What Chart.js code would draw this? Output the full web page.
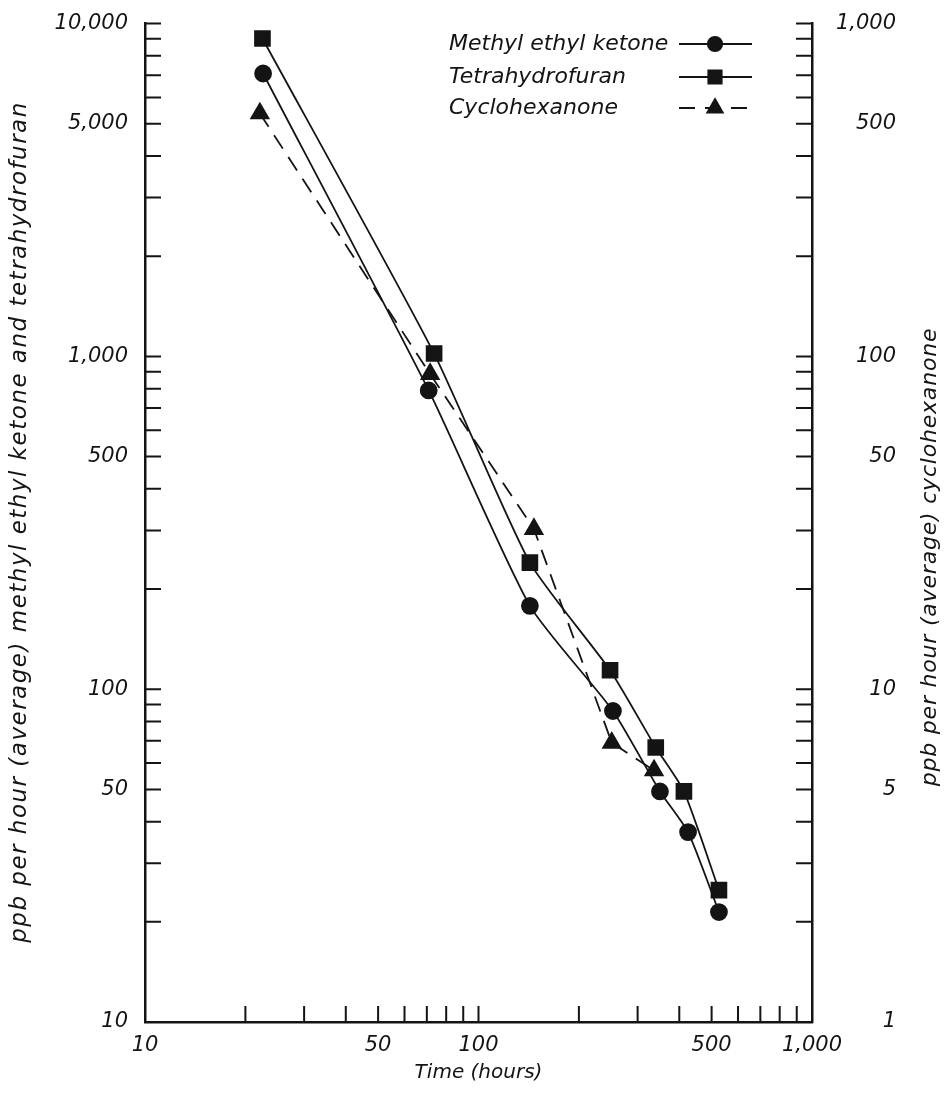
<!DOCTYPE html>
<html>
<head>
<meta charset="utf-8">
<script src="https://cdn.jsdelivr.net/npm/chart.js@4.4.0/dist/chart.umd.min.js"></script>
<style>
  html, body { margin: 0; padding: 0; background: #fff; }
  #wrap { width: 944px; height: 1098px; position: relative; }
</style>
</head>
<body>
<div id="wrap"><canvas id="myChart"></canvas></div>
<script>
// values
const mekHours = [22.6, 70.9, 142.6, 253, 350, 425, 526];
const mekRate  = [7080, 790, 178, 86, 49.3, 37.2, 21.4];

const thfHours = [22.5, 73.6, 142.6, 248, 340, 413, 526];
const thfRate  = [9020, 1020, 240, 114, 66.8, 49.3, 24.9];

// cyclohexanone is read on the right hand axis
const cycHours = [22.1, 71.6, 146.6, 251, 336];
const cycRate  = [537, 88.5, 30.3, 6.9, 5.7];

const xTickValues = [10, 20, 30, 40, 50, 60, 70, 80, 90, 100, 200, 300, 400, 500, 600, 700, 800, 900, 1000];
const xTickLabels = [10, 50, 100, 500, 1000];

const yTickValues = [10, 20, 30, 40, 50, 60, 70, 80, 90, 100, 200, 300, 400, 500, 600, 700, 800, 900,
                     1000, 2000, 3000, 4000, 5000, 6000, 7000, 8000, 9000, 10000];
const yTickLabels = [10, 50, 100, 500, 1000, 5000, 10000];

const y2TickValues = [1, 2, 3, 4, 5, 6, 7, 8, 9, 10, 20, 30, 40, 50, 60, 70, 80, 90,
                      100, 200, 300, 400, 500, 600, 700, 800, 900, 1000];
const y2TickLabels = [1, 5, 10, 50, 100, 500, 1000];

const seriesNames = ['Methyl ethyl ketone', 'Tetrahydrofuran', 'Cyclohexanone'];
const leftTitle = 'ppb per hour (average) methyl ethyl ketone and tetrahydrofuran';
const rightTitle = 'ppb per hour (average) cyclohexanone';

const ink = '#141414';
const fontFam = "'DejaVu Sans', 'Liberation Sans', sans-serif";
const tickFont = { family: fontFam, size: 21, style: 'italic' };

function toPoints(xs, ys) {
    return xs.map((x, i) => ({ x: x, y: ys[i] }));
}
function fixTicks(values) {
    return function (scale) {
        scale.ticks = values.map(v => ({ value: v }));
    };
}
function labelFor(list) {
    return function (value) {
        return list.includes(value) ? value.toLocaleString('en-US') : '';
    };
}

// tick marks point into the plot, like the original
const inwardTicks = {
    id: 'inwardTicks',
    afterDraw(chart) {
        const ctx = chart.ctx;
        const a = chart.chartArea;
        const len = 16;
        const sx = chart.scales.x, sy = chart.scales.y, sy2 = chart.scales.y2;
        ctx.save();
        ctx.strokeStyle = ink;
        ctx.lineWidth = 2;
        ctx.beginPath();
        sx.ticks.forEach(t => {
            const px = sx.getPixelForValue(t.value);
            ctx.moveTo(px, a.bottom);
            ctx.lineTo(px, a.bottom - len);
        });
        sy.ticks.forEach(t => {
            const py = sy.getPixelForValue(t.value);
            ctx.moveTo(a.left, py);
            ctx.lineTo(a.left + len, py);
        });
        sy2.ticks.forEach(t => {
            const py = sy2.getPixelForValue(t.value);
            ctx.moveTo(a.right, py);
            ctx.lineTo(a.right - len, py);
        });
        ctx.stroke();
        ctx.restore();
    }
};

function rotatedText(ctx, text, x, y, size, spacing) {
    ctx.save();
    ctx.translate(x, y);
    ctx.rotate(-Math.PI / 2);
    ctx.font = 'italic ' + size + 'px ' + fontFam;
    ctx.letterSpacing = spacing + 'px';
    ctx.textAlign = 'center';
    ctx.textBaseline = 'middle';
    ctx.fillText(text, 0, 0);
    ctx.restore();
}

// legend (text then sample line with marker) and both axis titles
const extras = {
    id: 'extras',
    afterDraw(chart) {
        const ctx = chart.ctx;
        ctx.save();
        ctx.fillStyle = ink;
        ctx.strokeStyle = ink;
        ctx.font = 'italic 22px ' + fontFam;
        ctx.textBaseline = 'middle';
        ctx.textAlign = 'left';
        const rows = [44, 77, 108];
        chart.data.datasets.forEach((ds, i) => {
            const y = rows[i];
            ctx.fillText(seriesNames[i], 449, y);
            ctx.lineWidth = 1.8;
            ctx.setLineDash(ds.borderDash || []);
            ctx.beginPath();
            ctx.moveTo(679, y);
            ctx.lineTo(752, y);
            ctx.stroke();
            ctx.setLineDash([]);
            Chart.helpers.drawPoint(ctx, {
                pointStyle: ds.pointStyle, radius: ds.pointRadius * 0.9,
                borderWidth: 1, rotation: 0
            }, 715, y);
        });
        rotatedText(ctx, leftTitle, 20, 522, 23, 1.5);
        rotatedText(ctx, rightTitle, 930, 557, 22, 0.8);
        ctx.restore();
    }
};

new Chart('myChart', {
    type: 'line',
    data: {
        datasets: [{
            label: seriesNames[0],
            data: toPoints(mekHours, mekRate),
            yAxisID: 'y',
            borderColor: ink, backgroundColor: ink,
            borderWidth: 1.8,
            pointStyle: 'circle', pointRadius: 8,
            tension: 0.2
        }, {
            label: seriesNames[1],
            data: toPoints(thfHours, thfRate),
            yAxisID: 'y',
            borderColor: ink, backgroundColor: ink,
            borderWidth: 1.8,
            pointStyle: 'rect', pointRadius: 10.5,
            tension: 0.2
        }, {
            label: seriesNames[2],
            data: toPoints(cycHours, cycRate),
            yAxisID: 'y2',
            borderColor: ink, backgroundColor: ink,
            borderWidth: 1.8,
            borderDash: [16, 10],
            pointStyle: 'triangle', pointRadius: 10,
            tension: 0
        }]
    },
    options: {
        responsive: true,
        maintainAspectRatio: false,
        animation: false,
        layout: { padding: { top: 16, left: 0, right: 48, bottom: 0 } },
        plugins: {
            legend: { display: false },
            tooltip: { enabled: false }
        },
        scales: {
            x: {
                type: 'logarithmic',
                min: 10, max: 1000,
                afterBuildTicks: fixTicks(xTickValues),
                afterFit: s => { s.height = 76; },
                grid: { display: false },
                border: { display: true, color: ink, width: 2.5 },
                ticks: {
                    autoSkip: false, maxRotation: 0, padding: 3,
                    color: ink, font: tickFont,
                    callback: labelFor(xTickLabels)
                },
                title: {
                    display: true, text: 'Time (hours)', color: ink,
                    font: { family: fontFam, size: 20, style: 'italic' },
                    padding: { top: 0, bottom: 13 }
                }
            },
            y: {
                type: 'logarithmic',
                position: 'left',
                min: 10, max: 10000,
                afterBuildTicks: fixTicks(yTickValues),
                afterFit: s => { s.width = 145; },
                grid: { display: false },
                border: { display: true, color: ink, width: 2.5 },
                ticks: {
                    autoSkip: false, padding: 9,
                    color: ink, font: tickFont,
                    callback: labelFor(yTickLabels)
                }
            },
            y2: {
                type: 'logarithmic',
                position: 'right',
                min: 1, max: 1000,
                afterBuildTicks: fixTicks(y2TickValues),
                afterFit: s => { s.width = 84; },
                grid: { display: false },
                border: { display: true, color: ink, width: 2.5 },
                ticks: {
                    autoSkip: false, padding: 11, crossAlign: 'far',
                    color: ink, font: tickFont,
                    callback: labelFor(y2TickLabels)
                }
            }
        }
    },
    plugins: [inwardTicks, extras]
});
</script>
</body>
</html>
